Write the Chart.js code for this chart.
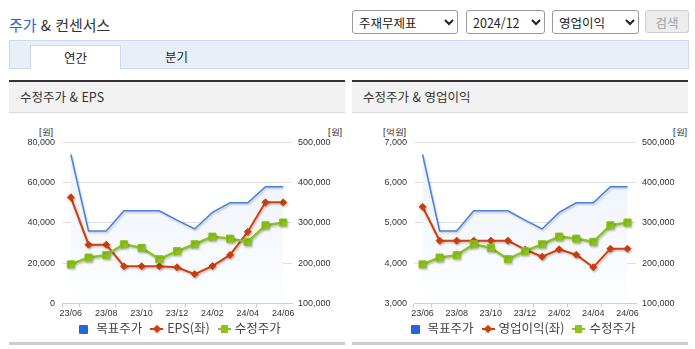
<!DOCTYPE html>
<html lang="ko">
<head>
<meta charset="utf-8">
<script src="https://cdn.jsdelivr.net/npm/chart.js@4.4.1/dist/chart.umd.min.js"></script>
<style>
    body { margin: 0; width: 695px; height: 349px; position: relative; background: #fff; font-family: 'Noto Sans CJK KR', 'Noto Sans', sans-serif; color: #333; overflow: hidden; }
    .abs { position: absolute; }
    select { position: absolute; top: 10px; height: 24px; font-family: 'Noto Sans CJK KR', sans-serif; font-size: 12.5px; color: #222; border: 1px solid #9a9a9a; border-radius: 3px; background: #fff; padding: 0 2px; }
    .btn { top: 10px; left: 645px; width: 44px; height: 23px; border: 1px solid #cfcfcf; border-radius: 3px; background: #ececec; color: #a0a0a0; font-size: 12.5px; text-align: center; line-height: 23px; box-sizing: border-box; }
    .tabbar { left: 9px; top: 40px; width: 680px; height: 29px; background: #e9eff9; border: 1px solid #cdd8ea; box-sizing: border-box; }
    .tab { top: 45px; left: 30px; width: 91px; height: 24px; background: #fff; border: 1px solid #cdd8ea; border-bottom: none; box-sizing: border-box; text-align: center; font-size: 12.5px; line-height: 23px; color: #222; }
    .tab2 { top: 45px; left: 131px; width: 91px; height: 24px; text-align: center; font-size: 12.5px; line-height: 23px; color: #222; }
    .ptop { top: 80px; width: 336px; height: 2px; background: #333; }
    .phead { top: 82px; width: 336px; height: 31px; background: #f2f2f2; border-bottom: 1px solid #d9d9d9; box-sizing: border-box; font-size: 12.5px; line-height: 30px; padding-left: 11px; color: #333; }
    .pbot { top: 342px; width: 336px; height: 3px; background: #cdcdcd; }
    .unit { top: 126px; font-family: 'Liberation Sans', sans-serif; font-size: 9px; line-height: 12px; color: #222; }
    canvas { position: absolute; top: 113px; }
    .legend { top: 320px; width: 336px; height: 15px; text-align: center; font-size: 12.5px; line-height: 15px; color: #444; white-space: nowrap; }
    .legend span { display: inline-block; margin: 0 4px; }
    .sq { display: inline-block; width: 9px; height: 9px; border-radius: 1px; vertical-align: -1px; margin-right: 8px; }
    .ln { display: inline-block; width: 13px; height: 2px; position: relative; vertical-align: 3px; margin-right: 4px; }
    .ln b { position: absolute; }
</style>
</head>
<body>

<div class="abs" style="left:9px;top:15px;font-size:15px;line-height:20px;color:#333"><span style="color:#2a62c9">주가</span> &amp; 컨센서스</div>
<select style="left:352px;width:106px"><option>주재무제표</option></select>
<select style="left:466px;width:79px"><option>2024/12</option></select>
<select style="left:552px;width:87px"><option>영업이익</option></select>
<div class="abs btn">검색</div>

<div class="abs tabbar"></div>
<div class="abs tab">연간</div>
<div class="abs tab2">분기</div>

<div class="abs ptop" style="left:9px"></div>
<div class="abs phead" style="left:9px">수정주가 &amp; EPS</div>
<div class="abs pbot" style="left:9px"></div>
<div class="abs unit" style="left:39px">[원]</div>
<div class="abs unit" style="left:328px">[원]</div>
<canvas id="chartEps" width="336" height="210" style="left:9px"></canvas>
<div class="abs legend" id="legendEps" style="left:12px"></div>

<div class="abs ptop" style="left:352px"></div>
<div class="abs phead" style="left:352px">수정주가 &amp; 영업이익</div>
<div class="abs pbot" style="left:352px"></div>
<div class="abs unit" style="left:383px">[억원]</div>
<div class="abs unit" style="left:673px">[원]</div>
<canvas id="chartOp" width="336" height="210" style="left:352px"></canvas>
<div class="abs legend" id="legendOp" style="left:355px"></div>

<script>
// 월별 카테고리
const months = ['23/06', '23/07', '23/08', '23/09', '23/10', '23/11', '23/12', '24/01', '24/02', '24/03', '24/04', '24/05', '24/06'];

// 우측축 (원)
const targetPrice = [470000, 280000, 280000, 330000, 330000, 330000, 307000, 285000, 326000, 350000, 350000, 390000, 390000];
const adjPrice = [197000, 214000, 220000, 247000, 238000, 210000, 230000, 247000, 266000, 261000, 253000, 294000, 301000];

// 좌측축
const eps = [52700, 29200, 29200, 18500, 18500, 18500, 18000, 14600, 18600, 24100, 35600, 50200, 50200];
const opProfit = [5400, 4560, 4560, 4560, 4560, 4560, 4340, 4160, 4345, 4210, 3900, 4360, 4360];

const legendEps = ['목표주가', 'EPS(좌)', '수정주가'];
const legendOp = ['목표주가', '영업이익(좌)', '수정주가'];

const BLUE = '#4580dc';
const BLUE_KEY = '#2366d8';
const RED = '#d23f0c';
const GREEN = '#8cc31c';
const tickFont = { family: "'Liberation Sans', sans-serif", size: 9 };

const shadowPlugin = {
    id: 'lineShadow',
    beforeDatasetDraw(chart) {
        const c = chart.ctx;
        c.save();
        c.shadowColor = 'rgba(0,0,0,0.22)';
        c.shadowBlur = 2;
        c.shadowOffsetX = 1;
        c.shadowOffsetY = 1.5;
    },
    afterDatasetDraw(chart) {
        chart.ctx.restore();
    }
};

function makeChart(id, leftData, leftMin, leftMax, leftStep, leftW, rightW) {
    const ctx = document.getElementById(id).getContext('2d');
    return new Chart(ctx, {
        type: 'line',
        data: {
            labels: months,
            datasets: [
                {
                    data: adjPrice, yAxisID: 'y2', order: 0,
                    borderColor: GREEN, borderWidth: 2.5, backgroundColor: GREEN,
                    pointStyle: 'rect', pointRadius: 5, pointBorderWidth: 1, tension: 0
                },
                {
                    data: leftData, yAxisID: 'y', order: 1,
                    borderColor: RED, borderWidth: 2, backgroundColor: RED,
                    pointStyle: 'rectRot', pointRadius: 3.5, pointBorderWidth: 1, tension: 0
                },
                {
                    data: targetPrice, yAxisID: 'y2', order: 2,
                    borderColor: BLUE, borderWidth: 1.5, pointRadius: 0, tension: 0,
                    fill: 'start',
                    backgroundColor: (c) => {
                        const a = c.chart.chartArea;
                        if (!a) return '#f2f6fc';
                        const g = c.chart.ctx.createLinearGradient(0, a.top, 0, a.bottom);
                        g.addColorStop(0, '#ebf2fc');
                        g.addColorStop(0.85, '#fafcfe');
                        g.addColorStop(1, '#ffffff');
                        return g;
                    }
                }
            ]
        },
        options: {
            responsive: false,
            animation: false,
            layout: { padding: { top: 29.3, bottom: 0, left: 0, right: 0 } },
            plugins: { legend: { display: false }, tooltip: { enabled: false } },
            scales: {
                x: {
                    offset: true,
                    grid: {
                        offset: true, drawOnChartArea: false, tickLength: 4,
                        tickColor: (c) => (c.index % 2 === 1 || c.index === 0 || c.index === months.length) ? '#c2cde0' : 'rgba(0,0,0,0)'
                    },
                    border: { color: '#c2cde0' },
                    ticks: {
                        autoSkip: false, maxRotation: 0, minRotation: 0, padding: 1,
                        font: tickFont, color: '#333',
                        callback: (v, i) => i % 2 === 0 ? months[i] : ''
                    },
                    afterFit(s) { s.height = 19.5; }
                },
                y: {
                    position: 'left', min: leftMin, max: leftMax,
                    grid: { drawTicks: false, color: (c) => c.tick && c.tick.value === leftMin ? 'rgba(0,0,0,0)' : '#dedede' },
                    border: { display: false },
                    ticks: { stepSize: leftStep, padding: 7, font: tickFont, color: '#333', callback: v => v.toLocaleString('en-US') },
                    afterFit(s) { s.width = leftW; }
                },
                y2: {
                    position: 'right', min: 100000, max: 500000,
                    grid: { drawTicks: false, drawOnChartArea: false },
                    border: { display: false },
                    ticks: { stepSize: 100000, padding: 6, font: tickFont, color: '#333', callback: v => v.toLocaleString('en-US') },
                    afterFit(s) { s.width = rightW; }
                }
            }
        },
        plugins: [shadowPlugin]
    });
}

function buildLegend(id, names) {
    const marks = [
        `<i class="sq" style="background:${BLUE_KEY}"></i>`,
        `<i class="ln" style="background:${RED}"><b style="left:3.5px;top:-2.5px;width:6px;height:6px;background:${RED};transform:rotate(45deg)"></b></i>`,
        `<i class="ln" style="background:${GREEN}"><b style="left:3px;top:-3px;width:7px;height:8px;background:${GREEN}"></b></i>`
    ];
    document.getElementById(id).innerHTML = names.map((n, i) => `<span>${marks[i]}${n}</span>`).join('');
}

makeChart('chartEps', eps, 0, 80000, 20000, 53, 53);
makeChart('chartOp', opProfit, 3000, 7000, 1000, 62, 52);
buildLegend('legendEps', legendEps);
buildLegend('legendOp', legendOp);
</script>
</body>
</html>
